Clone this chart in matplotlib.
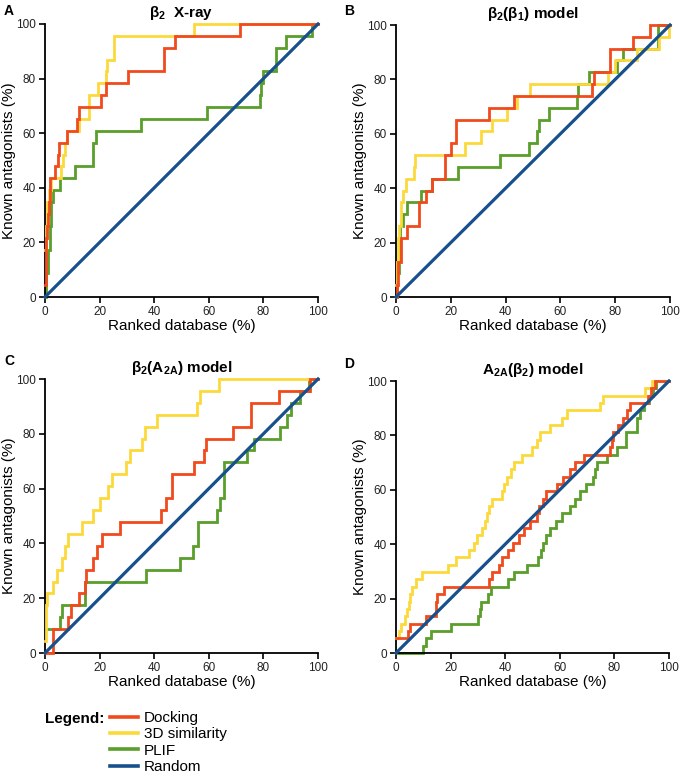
import matplotlib
matplotlib.use("Agg")
import matplotlib.pyplot as plt

plt.rcParams['font.family'] = ['Liberation Sans', 'DejaVu Sans']
plt.rcParams['mathtext.fontset'] = 'custom'
plt.rcParams['mathtext.rm'] = 'Liberation Sans'
plt.rcParams['mathtext.bf'] = 'Liberation Sans:bold'

# number of known antagonists per panel
n_ab = 23
n_c = 23
n_d = 37

# step curves: x = ranked database (%) where the count rises, k = antagonists found
a_dock_x = [0, 0.2, 0.4, 0.7, 1.0, 1.4, 2.0, 3.7, 4.6, 5.2, 8.0, 11.8, 12.6, 20.5, 22.4, 30.4, 43.6, 47.6, 71.5]
a_dock_k = [1, 3, 5, 6, 7, 8, 10, 11, 12, 13, 14, 15, 16, 17, 18, 19, 21, 22, 23]
a_sim_x = [0, 0.3, 0.8, 1.5, 2.2, 6.0, 6.6, 7.3, 8.2, 12.6, 16.2, 19.5, 22.4, 22.8, 25.3, 54.4]
a_sim_k = [4, 6, 8, 9, 10, 11, 12, 13, 14, 15, 17, 18, 19, 20, 22, 23]
a_plif_x = [0, 0.5, 1.0, 1.8, 2.3, 2.8, 5.6, 11.0, 17.5, 18.6, 35.0, 59.5, 78.8, 79.3, 80.0, 84.5, 88.2, 97.8]
a_plif_k = [0, 2, 4, 6, 8, 9, 10, 11, 13, 14, 15, 16, 17, 18, 19, 21, 22, 23]

b_dock_x = [0, 0.4, 0.8, 2.0, 4.0, 8.5, 11.0, 13.0, 18.0, 20.0, 22.0, 34.0, 43.0, 71.6, 72.2, 78.2, 86.6, 92.6]
b_dock_k = [0, 1, 3, 5, 6, 8, 9, 10, 12, 13, 15, 16, 17, 18, 19, 21, 22, 23]
b_sim_x = [0, 0.3, 0.7, 1.2, 1.8, 2.7, 3.6, 6.6, 7.0, 25.0, 31.0, 35.0, 40.5, 44.0, 45.0, 49.0, 77.5, 80.0, 88.0, 96.0, 99.5]
b_sim_k = [1, 3, 5, 6, 8, 9, 10, 11, 12, 13, 14, 15, 16, 17, 17, 18, 19, 20, 21, 22, 23]
b_plif_x = [0, 0.5, 1.0, 1.6, 2.4, 4.1, 9.0, 13.0, 22.7, 38.0, 48.5, 51.6, 52.2, 55.7, 66.0, 66.5, 70.6, 80.5, 82.7, 95.7]
b_plif_k = [0, 2, 5, 6, 7, 8, 9, 10, 11, 12, 13, 14, 15, 16, 17, 18, 19, 20, 21, 23]

c_dock_x = [0, 3.0, 8.6, 9.4, 12.6, 14.7, 15.0, 17.5, 19.0, 20.8, 27.5, 42.4, 44.4, 46.5, 54.6, 58.3, 59.0, 68.7, 75.4, 85.6, 97.0]
c_dock_k = [0, 2, 3, 4, 5, 6, 7, 8, 9, 10, 11, 12, 13, 15, 16, 17, 18, 19, 21, 22, 23]
c_sim_x = [0, 0.3, 0.5, 0.9, 2.8, 4.5, 6.1, 7.3, 8.6, 13.4, 17.7, 20.2, 23.2, 24.4, 29.7, 31.2, 35.5, 36.7, 41.0, 55.6, 56.8, 63.6]
c_sim_k = [1, 2, 4, 5, 6, 7, 8, 9, 10, 11, 12, 13, 14, 15, 16, 17, 18, 19, 20, 21, 22, 23]
c_plif_x = [0, 5.5, 6.1, 14.7, 37.0, 49.5, 54.2, 56.2, 62.9, 64.2, 65.6, 74.0, 76.4, 86.2, 88.6, 90.0, 93.5, 96.8]
c_plif_k = [2, 3, 4, 6, 7, 8, 9, 11, 12, 13, 16, 17, 18, 19, 20, 21, 22, 23]

d_dock_x = [0, 4.3, 5.3, 11.0, 14.7, 15.2, 17.7, 34.2, 35.0, 37.9, 39.0, 41.0, 43.0, 45.0, 47.0, 49.0, 51.5,
            52.5, 54.0, 55.0, 58.9, 61.0, 63.8, 65.6, 68.7, 78.4, 79.0, 79.6, 81.5, 83.2, 84.5, 85.7, 92.3, 93.5, 94.8]
d_dock_k = [2, 3, 4, 5, 7, 8, 9, 10, 11, 12, 13, 14, 15, 16, 17, 18, 19,
            20, 21, 22, 23, 24, 25, 26, 27, 28, 29, 30, 31, 32, 33, 34, 35, 36, 37]
d_sim_x = [0, 1.2, 2.0, 3.3, 4.0, 4.7, 5.3, 6.0, 7.3, 9.7, 19.1, 21.9, 26.7, 28.6, 29.8, 31.6, 32.5, 33.2,
           34.0, 35.2, 38.9, 39.6, 40.8, 42.0, 43.1, 46.2, 49.8, 51.6, 52.9, 56.5, 60.8, 62.6, 74.7, 76.0, 91.1, 93.6]
d_sim_k = [2, 3, 4, 5, 6, 7, 8, 9, 10, 11, 12, 13, 14, 15, 16, 17, 18, 19,
           20, 21, 22, 23, 24, 25, 26, 27, 28, 29, 30, 31, 32, 33, 34, 35, 36, 37]
d_plif_x = [0, 9.8, 11.0, 12.8, 20.2, 30.0, 30.6, 31.2, 33.6, 34.8, 41.0, 43.4, 48.0, 52.0, 53.0, 54.0, 55.0,
            56.5, 58.5, 60.8, 63.8, 65.5, 67.3, 69.5, 72.3, 73.0, 73.5, 77.2, 80.8, 84.4, 88.1, 89.5, 91.0, 92.5, 94.0, 95.4]
d_plif_k = [0, 1, 2, 3, 4, 5, 6, 7, 8, 9, 10, 11, 12, 13, 14, 15, 16,
            17, 18, 19, 20, 21, 22, 23, 24, 25, 26, 27, 28, 30, 32, 33, 34, 35, 36, 37]

titles = ['β$_\\mathbf{2}$  X-ray', 'β$_\\mathbf{2}$(β$_\\mathbf{1}$) model',
          'β$_\\mathbf{2}$(A$_\\mathbf{2A}$) model', 'A$_\\mathbf{2A}$(β$_\\mathbf{2}$) model']
letters = ['A', 'B', 'C', 'D']
series = ['Docking', '3D similarity', 'PLIF', 'Random']
colors = ['#f04a1d', '#fcd93a', '#5a9e2b', '#17508c']

panels = [
    (n_ab, [(a_dock_x, a_dock_k), (a_sim_x, a_sim_k), (a_plif_x, a_plif_k)]),
    (n_ab, [(b_dock_x, b_dock_k), (b_sim_x, b_sim_k), (b_plif_x, b_plif_k)]),
    (n_c, [(c_dock_x, c_dock_k), (c_sim_x, c_sim_k), (c_plif_x, c_plif_k)]),
    (n_d, [(d_dock_x, d_dock_k), (d_sim_x, d_sim_k), (d_plif_x, d_plif_k)]),
]

W, H = 680, 775
fig = plt.figure(figsize=(W / 100, H / 100), dpi=100)
# axes boxes in pixels: left, top, right, bottom
boxes = [(45, 24, 318, 297), (396, 25, 670, 297), (45, 379, 318, 653), (396, 381, 669, 653)]
letter_pos = [(4, 11), (344, 11), (4, 361), (344, 364)]

handles = []
for i, (box, (n, curves)) in enumerate(zip(boxes, panels)):
    l, t, r, b = box
    ax = fig.add_axes([l / W, 1 - b / H, (r - l) / W, (b - t) / H])
    # draw order: plif, similarity, docking, random on top
    for j in [2, 1, 0]:
        xs, ks = curves[j]
        x = list(xs) + [100]
        y = [k / n * 100 for k in ks] + [ks[-1] / n * 100]
        ln, = ax.step(x, y, where='post', color=colors[j], lw=2.0, clip_on=False,
                      solid_joinstyle='miter', zorder=2 + (2 - j))
        if i == 0:
            handles.append((j, ln))
    rl, = ax.plot([0, 100], [0, 100], color=colors[3], lw=2.3, clip_on=False, zorder=6)
    if i == 0:
        handles.append((3, rl))
    ax.set_xlim(0, 100)
    ax.set_ylim(0, 100)
    ax.set_xticks(range(0, 101, 20))
    ax.set_yticks(range(0, 101, 20))
    ax.spines['top'].set_visible(False)
    ax.spines['right'].set_visible(False)
    for s in ['left', 'bottom']:
        ax.spines[s].set_linewidth(1.3)
    ax.tick_params(direction='out', length=4, width=1.2, labelsize=8.5, pad=2.5, labelcolor='#222222')
    ax.set_xlabel('Ranked database (%)', fontsize=11, labelpad=1)
    ax.set_ylabel('Known antagonists (%)', fontsize=11, labelpad=0)
    ax.set_title(titles[i], fontsize=11, fontweight='bold', pad=5)
    lx, ly = letter_pos[i]
    fig.text(lx / W, 1 - ly / H, letters[i], fontsize=10, fontweight='bold', va='center')

handles.sort(key=lambda h: h[0])
fig.text(45 / W, 1 - 719 / H, 'Legend:', fontsize=11, fontweight='bold', va='center')
fig.legend([h[1] for h in handles], series, loc='upper left', bbox_to_anchor=(110 / W, 1 - 711 / H),
           frameon=False, fontsize=11, borderpad=0, borderaxespad=0, labelspacing=0.15,
           handlelength=1.85, handletextpad=0.35)
for line in fig.legends[0].get_lines():
    line.set_linewidth(2.6)

fig.savefig('out.png', dpi=100)
